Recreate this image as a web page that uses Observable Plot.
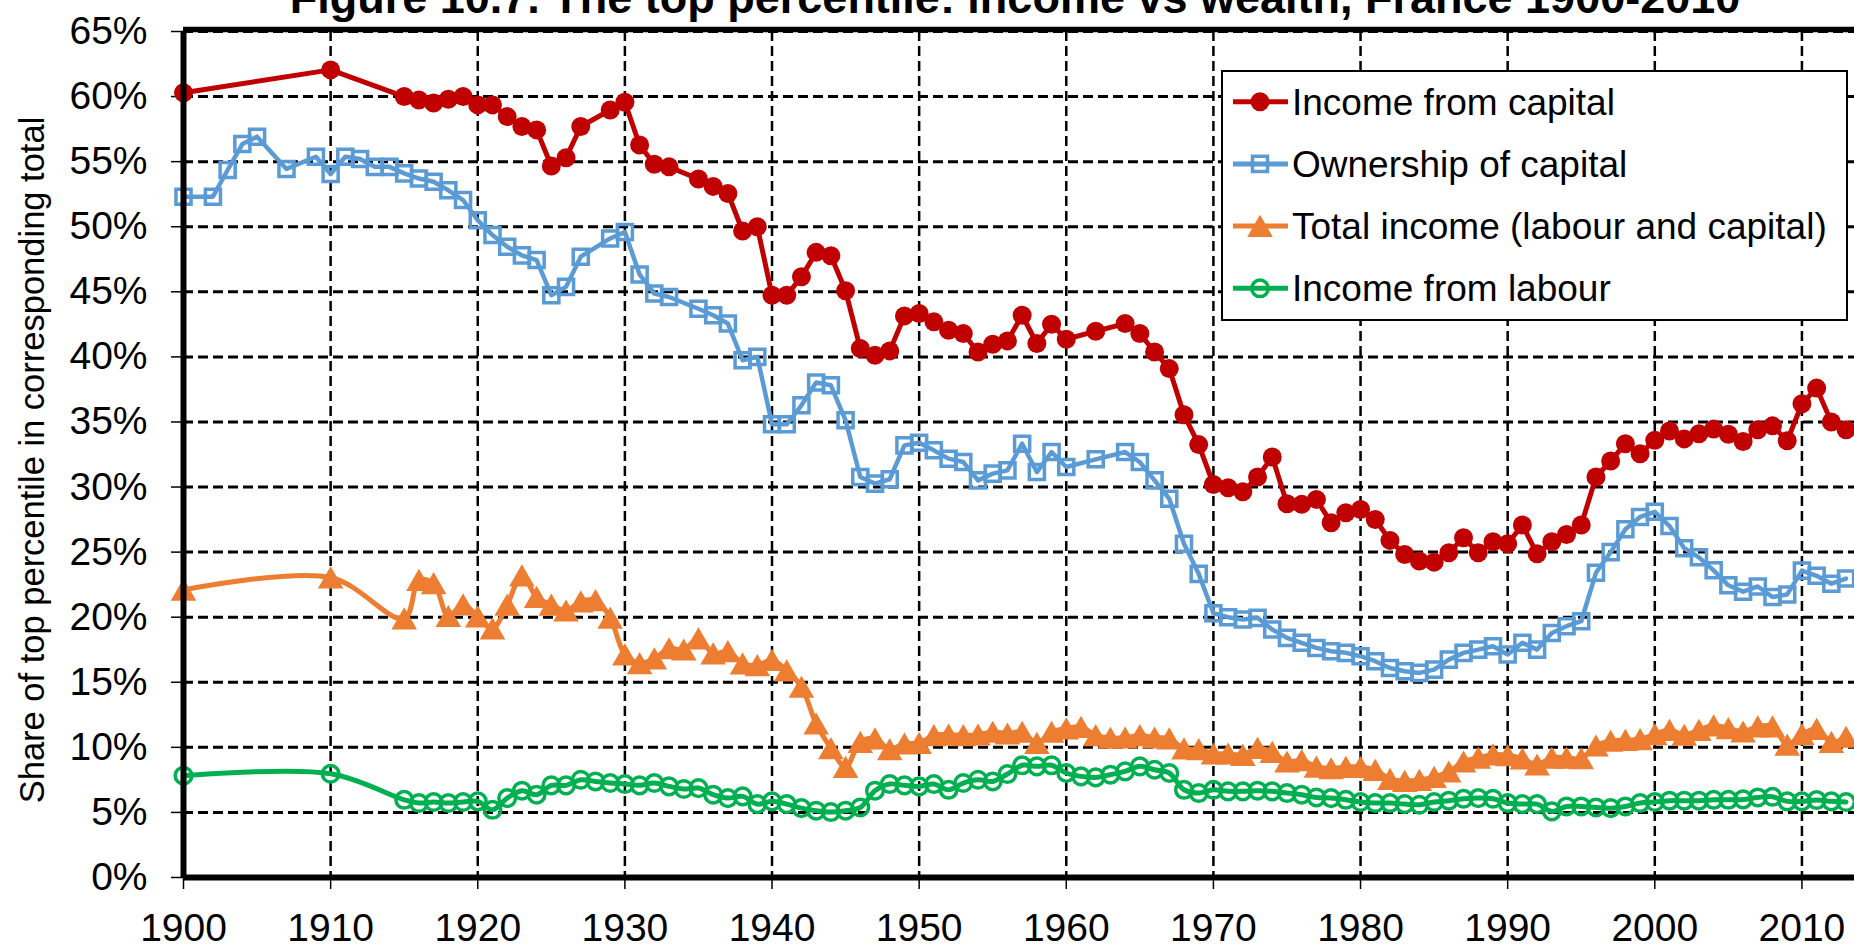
<!DOCTYPE html>
<html>
<head>
<meta charset="utf-8">
<script src="https://cdn.jsdelivr.net/npm/d3@7"></script>
<script src="https://cdn.jsdelivr.net/npm/@observablehq/plot@0.6"></script>
<style>
  html, body { margin: 0; padding: 0; background: #ffffff; overflow: hidden; }
  #chart svg { display: block; }
</style>
</head>
<body>
<div id="chart"></div>
<script>
// ---------------- data ----------------
const chartTitle = "Figure 10.7. The top percentile: income vs wealth, France 1900-2010";
const yAxisLabel = "Share of top percentile in corresponding total";
const seriesNames = ["Income from capital", "Ownership of capital", "Total income (labour and capital)", "Income from labour"];
const seriesColors = ["#C00000", "#5B9BD5", "#ED7D31", "#00B050"];
const xTicks = [1900, 1910, 1920, 1930, 1940, 1950, 1960, 1970, 1980, 1990, 2000, 2010];
const yTicks = [0, 5, 10, 15, 20, 25, 30, 35, 40, 45, 50, 55, 60, 65];

const capitalIncomeYears = [1900, 1910, 1915, 1916, 1917, 1918, 1919, 1920, 1921, 1922, 1923, 1924, 1925, 1926, 1927, 1929, 1930, 1931, 1932, 1933, 1935, 1936, 1937, 1938, 1939, 1940, 1941, 1942, 1943, 1944, 1945, 1946, 1947, 1948, 1949, 1950, 1951, 1952, 1953, 1954, 1955, 1956, 1957, 1958, 1959, 1960, 1962, 1964, 1965, 1966, 1967, 1968, 1969, 1970, 1971, 1972, 1973, 1974, 1975, 1976, 1977, 1978, 1979, 1980, 1981, 1982, 1983, 1984, 1985, 1986, 1987, 1988, 1989, 1990, 1991, 1992, 1993, 1994, 1995, 1996, 1997, 1998, 1999, 2000, 2001, 2002, 2003, 2004, 2005, 2006, 2007, 2008, 2009, 2010, 2011, 2012, 2013];
const capitalIncome = [60.3, 62.05, 60.0, 59.74, 59.5, 59.8, 60.0, 59.36, 59.36, 58.46, 57.7, 57.44, 54.67, 55.3, 57.7, 58.97, 59.56, 56.28, 54.8, 54.6, 53.67, 53.1, 52.56, 49.67, 50.0, 44.74, 44.74, 46.15, 48.03, 47.77, 45.08, 40.64, 40.13, 40.46, 43.15, 43.33, 42.69, 42.05, 41.8, 40.38, 40.97, 41.23, 43.2, 41.03, 42.51, 41.36, 41.97, 42.56, 41.8, 40.38, 39.1, 35.56, 33.26, 30.2, 29.95, 29.64, 30.77, 32.31, 28.72, 28.67, 29.05, 27.26, 28.03, 28.28, 27.51, 25.9, 24.82, 24.31, 24.23, 24.95, 26.1, 24.95, 25.8, 25.64, 27.08, 24.87, 25.8, 26.36, 27.08, 30.77, 32.0, 33.33, 32.56, 33.6, 34.3, 33.7, 34.1, 34.45, 34.05, 33.5, 34.4, 34.7, 33.55, 36.4, 37.6, 35.0, 34.4];

const capitalOwnershipYears = [1900, 1902, 1903, 1904, 1905, 1907, 1909, 1910, 1911, 1912, 1913, 1914, 1915, 1916, 1917, 1918, 1919, 1920, 1921, 1922, 1923, 1924, 1925, 1926, 1927, 1929, 1930, 1931, 1932, 1933, 1935, 1936, 1937, 1938, 1939, 1940, 1941, 1942, 1943, 1944, 1945, 1946, 1947, 1948, 1949, 1950, 1951, 1952, 1953, 1954, 1955, 1956, 1957, 1958, 1959, 1960, 1962, 1964, 1965, 1966, 1967, 1968, 1969, 1970, 1971, 1972, 1973, 1974, 1975, 1976, 1977, 1978, 1979, 1980, 1981, 1982, 1983, 1984, 1985, 1986, 1987, 1988, 1989, 1990, 1991, 1992, 1993, 1994, 1995, 1996, 1997, 1998, 1999, 2000, 2001, 2002, 2003, 2004, 2005, 2006, 2007, 2008, 2009, 2010, 2011, 2012, 2013];
const capitalOwnership = [52.31, 52.31, 54.36, 56.35, 56.92, 54.44, 55.38, 54.05, 55.38, 55.2, 54.6, 54.6, 54.1, 53.7, 53.46, 52.8, 52.05, 50.5, 49.36, 48.46, 47.8, 47.44, 44.74, 45.38, 47.7, 49.1, 49.6, 46.33, 44.87, 44.6, 43.7, 43.2, 42.56, 39.74, 40.0, 34.82, 34.82, 36.28, 38.03, 37.82, 35.13, 30.77, 30.26, 30.6, 33.2, 33.4, 32.82, 32.18, 31.92, 30.51, 31.03, 31.28, 33.33, 31.15, 32.69, 31.54, 32.13, 32.69, 31.92, 30.51, 29.1, 25.64, 23.33, 20.3, 20.0, 19.82, 19.95, 19.05, 18.41, 18.03, 17.64, 17.38, 17.26, 17.0, 16.62, 16.1, 15.85, 15.72, 15.97, 16.74, 17.26, 17.51, 17.77, 17.13, 18.03, 17.51, 18.79, 19.31, 19.69, 23.41, 25.0, 26.75, 27.7, 28.1, 27.0, 25.3, 24.6, 23.6, 22.45, 21.96, 22.36, 21.55, 21.75, 23.58, 23.18, 22.57, 22.97];

const incomeYears = [1900, 1910, 1915, 1916, 1917, 1918, 1919, 1920, 1921, 1922, 1923, 1924, 1925, 1926, 1927, 1928, 1929, 1930, 1931, 1932, 1933, 1934, 1935, 1936, 1937, 1938, 1939, 1940, 1941, 1942, 1943, 1944, 1945, 1946, 1947, 1948, 1949, 1950, 1951, 1952, 1953, 1954, 1955, 1956, 1957, 1958, 1959, 1960, 1961, 1962, 1963, 1964, 1965, 1966, 1967, 1968, 1969, 1970, 1971, 1972, 1973, 1974, 1975, 1976, 1977, 1978, 1979, 1980, 1981, 1982, 1983, 1984, 1985, 1986, 1987, 1988, 1989, 1990, 1991, 1992, 1993, 1994, 1995, 1996, 1997, 1998, 1999, 2000, 2001, 2002, 2003, 2004, 2005, 2006, 2007, 2008, 2009, 2010, 2011, 2012, 2013];
const totalIncome = [22.1, 23.05, 19.9, 22.85, 22.6, 20.08, 20.97, 20.05, 19.13, 20.95, 23.2, 21.54, 20.95, 20.5, 21.2, 21.3, 19.95, 17.13, 16.46, 16.82, 17.6, 17.5, 18.36, 17.2, 17.38, 16.44, 16.3, 16.7, 15.9, 14.64, 11.82, 9.92, 8.49, 10.41, 10.67, 9.85, 10.28, 10.33, 10.92, 10.97, 10.92, 10.97, 11.18, 11.05, 11.18, 10.33, 11.18, 11.44, 11.56, 10.92, 10.72, 10.74, 10.92, 10.74, 10.67, 9.9, 9.85, 9.51, 9.51, 9.41, 9.95, 9.64, 8.9, 9.0, 8.51, 8.38, 8.49, 8.49, 8.26, 7.56, 7.41, 7.49, 7.72, 8.13, 8.9, 9.2, 9.44, 9.38, 9.13, 8.67, 9.2, 9.2, 9.15, 10.13, 10.49, 10.56, 10.62, 11.0, 11.33, 10.95, 11.33, 11.67, 11.46, 11.2, 11.6, 11.6, 10.2, 11.0, 11.4, 10.4, 10.8];
const labourIncome = [7.82, 7.97, 5.97, 5.72, 5.8, 5.72, 5.8, 5.85, 5.2, 6.1, 6.67, 6.36, 7.08, 7.08, 7.51, 7.38, 7.26, 7.18, 7.08, 7.26, 7.0, 6.8, 6.87, 6.36, 6.1, 6.23, 5.64, 5.85, 5.64, 5.33, 5.13, 5.03, 5.13, 5.38, 6.67, 7.18, 7.08, 7.0, 7.18, 6.74, 7.26, 7.51, 7.38, 7.95, 8.62, 8.54, 8.62, 8.03, 7.77, 7.69, 7.9, 8.15, 8.54, 8.28, 8.03, 6.74, 6.49, 6.74, 6.62, 6.62, 6.67, 6.62, 6.49, 6.36, 6.15, 6.1, 5.97, 5.8, 5.72, 5.72, 5.64, 5.59, 5.8, 5.9, 6.05, 6.1, 6.05, 5.72, 5.64, 5.64, 5.08, 5.46, 5.46, 5.38, 5.33, 5.46, 5.72, 5.8, 5.9, 5.9, 5.9, 5.97, 5.97, 6.0, 6.15, 6.2, 5.85, 5.85, 5.95, 5.85, 5.8];

// ---------------- build ----------------
const FONT = "'Liberation Sans', Arial, Helvetica, sans-serif";
const toRows = (years, values) => years.map((year, i) => ({year, value: values[i]}));
const capIncRows = toRows(capitalIncomeYears, capitalIncome);
const capOwnRows = toRows(capitalOwnershipYears, capitalOwnership);
const totalRows = toRows(incomeYears, totalIncome);
const labourRows = toRows(incomeYears, labourIncome);

const W = 1854, H = 947;
const M = {top: 31, right: 0, bottom: 70, left: 183};
const xMax = 1900 + (W - M.left) / 14.713;

// symbol specs shared by plot and legend
const sym = [
  {symbol: "circle", r: 9.5, fill: seriesColors[0], stroke: "none", sw: 0, dy: 0},
  {symbol: "square", r: 8.5, fill: "none", stroke: seriesColors[1], sw: 3.5, dy: 0},
  {symbol: "triangle", r: 9.5, fill: seriesColors[2], stroke: "none", sw: 0, dy: 3.5},
  {symbol: "circle", r: 8.3, fill: "none", stroke: seriesColors[3], sw: 3.5, dy: 0}
];
const d3sym = {circle: d3.symbolCircle, square: d3.symbolSquare, triangle: d3.symbolTriangle};

function legendMark() {
  const g = d3.create("svg:g").attr("font-family", FONT).attr("text-anchor", "start");
  const bx = 1222, by = 71, bw = 625, bh = 249;
  g.append("rect").attr("x", bx).attr("y", by).attr("width", bw).attr("height", bh)
    .attr("fill", "#fff").attr("stroke", "#000").attr("stroke-width", 2);
  seriesNames.forEach((name, i) => {
    const cy = by + 30.7 + i * 62.2;
    g.append("line").attr("x1", bx + 11).attr("x2", bx + 66).attr("y1", cy).attr("y2", cy)
      .attr("stroke", seriesColors[i]).attr("stroke-width", 5);
    const s = sym[i];
    g.append("path")
      .attr("d", d3.symbol(d3sym[s.symbol], Math.PI * s.r * s.r)())
      .attr("transform", `translate(${bx + 38},${cy + s.dy})`)
      .attr("fill", s.fill).attr("stroke", s.stroke).attr("stroke-width", s.sw);
    g.append("text").attr("x", bx + 70).attr("y", cy).attr("dy", "0.35em")
      .attr("text-anchor", "start").attr("font-size", 37).attr("fill", "#000").text(name);
  });
  return g.node();
}

function yLabelMark() {
  const cy = 460, bx = 44.4;   // baseline x and vertical centre of the rotated label
  const g = d3.create("svg:g").attr("font-family", FONT);
  g.append("text")
    .attr("transform", `translate(${bx},${cy}) rotate(-90)`)
    .attr("text-anchor", "middle").attr("font-size", 34.5).attr("fill", "#000")
    .text(yAxisLabel);
  return g.node();
}

const lineOpts = (i, extra = {}) => ({x: "year", y: "value", stroke: seriesColors[i], strokeWidth: 5, ...extra});
const dotOpts = (i) => ({x: "year", y: "value", symbol: sym[i].symbol, r: sym[i].r, fill: sym[i].fill,
  stroke: sym[i].stroke, strokeWidth: sym[i].sw, dy: sym[i].dy});

const plot = Plot.plot({
  width: W,
  height: H,
  marginTop: M.top,
  marginRight: M.right,
  marginBottom: M.bottom,
  marginLeft: M.left,
  style: {fontFamily: FONT, background: "#fff", color: "#000", overflow: "visible"},
  x: {domain: [1900, xMax], axis: null},
  y: {domain: [0, 65], axis: null},
  marks: [
    Plot.gridY(yTicks, {stroke: "#000", strokeOpacity: 1, strokeWidth: 3, strokeDasharray: "10,5"}),
    Plot.gridX(xTicks, {stroke: "#000", strokeOpacity: 1, strokeWidth: 2.5, strokeDasharray: "10,5"}),
    Plot.axisY(yTicks, {anchor: "left", tickSize: 12, tickPadding: 24, tickFormat: d => d + "%", fontSize: 39, label: null, stroke: "#000", strokeWidth: 1.5}),
    Plot.axisX(xTicks, {anchor: "bottom", tickSize: 12, tickPadding: 24, tickFormat: d => String(d), fontSize: 39, label: null, stroke: "#000", strokeWidth: 1.5}),
    Plot.line(totalRows, lineOpts(2, {curve: "catmull-rom"})),
    Plot.dot(totalRows, dotOpts(2)),
    Plot.line(labourRows, lineOpts(3, {curve: "catmull-rom"})),
    Plot.dot(labourRows, dotOpts(3)),
    Plot.line(capOwnRows, lineOpts(1, {strokeWidth: 4.5})),
    Plot.dot(capOwnRows, dotOpts(1)),
    Plot.line(capIncRows, lineOpts(0)),
    Plot.dot(capIncRows, dotOpts(0)),
    Plot.ruleX([xTicks[0]], {stroke: "#000", strokeWidth: 6}),
    Plot.ruleY([yTicks[0]], {stroke: "#000", strokeWidth: 6}),
    Plot.ruleY([yTicks[yTicks.length - 1]], {stroke: "#000", strokeWidth: 5.5, dy: -2}),
    yLabelMark,
    Plot.text([chartTitle], {text: d => d, frameAnchor: "top", lineAnchor: "bottom", dx: -4, dy: -19, fontSize: 45, fontWeight: "bold", fill: "#000"}),
    legendMark
  ]
});
document.getElementById("chart").appendChild(plot);
</script>
</body>
</html>
